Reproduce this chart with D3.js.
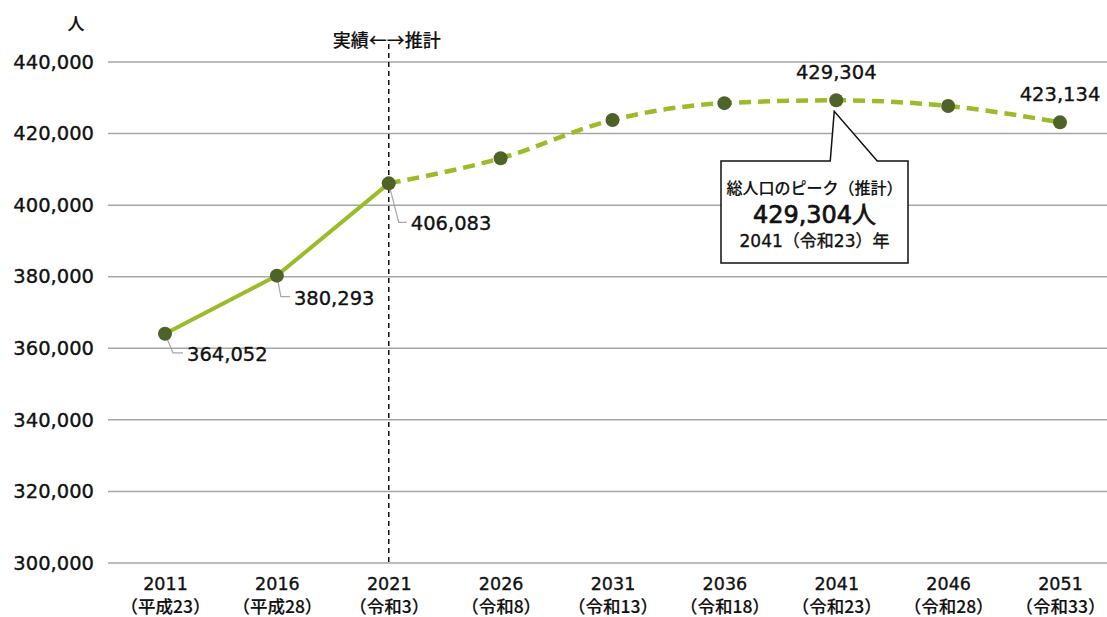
<!DOCTYPE html>
<html><head><meta charset="utf-8">
<script src="https://cdn.jsdelivr.net/npm/d3@7"></script>
<style>
body{margin:0;background:#fff;}
text{font-family:"DejaVu Sans","Noto Sans CJK JP",sans-serif;fill:#111;stroke:#111;stroke-width:0.35px;}
.jp{font-family:"Noto Sans CJK JP","DejaVu Sans",sans-serif;font-weight:500;stroke-width:0.15px;}
</style></head>
<body>
<svg id="c" width="1107" height="617"></svg>
<script>
const years = ["2011","2016","2021","2026","2031","2036","2041","2046","2051"];
const eras = ["（平成23）","（平成28）","（令和3）","（令和8）","（令和13）","（令和18）","（令和23）","（令和28）","（令和33）"];
const population = [364052,380293,406083,413100,423800,428500,429304,427700,423134];
const yTicks = [300000,320000,340000,360000,380000,400000,420000,440000];
const labelled = {0:"364,052",1:"380,293",2:"406,083",6:"429,304",8:"423,134"};
const actualEndIndex = 2;

const svg = d3.select("#c");
const x = d3.scalePoint().domain(years).range([165,1060]);
const y = d3.scaleLinear().domain([300000,440000]).range([563,62]);
const fmt = d3.format(",");

// gridlines
svg.append("g").selectAll("line").data(yTicks).join("line")
  .attr("x1",108).attr("x2",1107)
  .attr("y1",d=>y(d)).attr("y2",d=>y(d))
  .attr("stroke","#a6a6a6").attr("stroke-width",1.5);

// y axis labels
const yAxis = d3.axisLeft(y).tickValues(yTicks).tickFormat(fmt).tickSize(0).tickPadding(0);
const gy = svg.append("g").attr("transform","translate(94,0)").call(yAxis);
gy.select(".domain").remove();
gy.selectAll("text").attr("font-size","19.5px").attr("fill","#111")
  .style("font-family","'DejaVu Sans','Noto Sans CJK JP',sans-serif");

svg.append("text").attr("class","jp").attr("x",76).attr("y",30).attr("text-anchor","middle")
  .attr("font-size","17px").text("人");

// x axis labels
const xAxis = d3.axisBottom(x).tickSize(0).tickPadding(0).tickFormat(()=>"");
const gx = svg.append("g").attr("transform","translate(0,563)").call(xAxis);
gx.select(".domain").remove();
gx.selectAll(".tick").each(function(d,i){
  const g = d3.select(this);
  g.append("text").attr("y",27).attr("text-anchor","middle").attr("font-size","17.5px")
    .style("font-family","'DejaVu Sans','Noto Sans CJK JP',sans-serif").attr("fill","#111").text(years[i]);
  g.append("text").attr("class","jp").attr("y",50).attr("text-anchor","middle").attr("font-size","17.5px")
    .style("font-family","'Noto Sans CJK JP',sans-serif").attr("fill","#111").text(eras[i]);
});

// divider
const xd = x(years[actualEndIndex]);
svg.append("line").attr("x1",xd).attr("x2",xd).attr("y1",44).attr("y2",563)
  .attr("stroke","#111").attr("stroke-width",1.5).attr("stroke-dasharray","5,4");
svg.append("text").attr("class","jp").attr("x",xd-2).attr("y",47).attr("text-anchor","middle")
  .attr("font-size","18px").text("実績←→推計");

// line
const pts = years.map((yr,i)=>({yr,v:population[i]}));
const lineSolid = d3.line().x(d=>x(d.yr)).y(d=>y(d.v)).curve(d3.curveLinear);
const lineDash = d3.line().x(d=>x(d.yr)).y(d=>y(d.v)).curve(d3.curveMonotoneX);
svg.append("path").datum(pts.slice(0,actualEndIndex+1)).attr("d",lineSolid).attr("fill","none").attr("stroke","#9bbb29")
  .attr("stroke-width",4);
svg.append("path").datum(pts.slice(actualEndIndex)).attr("d",lineDash).attr("fill","none").attr("stroke","#9bbb29")
  .attr("stroke-width",4.5).attr("stroke-dasharray","12,7");

// leader lines for lower labels
const leaders = [[0,8,19,18],[1,4,21,13],[2,10,39,18]];
leaders.forEach(([i,dx,dy,hx])=>{
  const px=x(years[i]), py=y(population[i]);
  svg.append("polyline").attr("points",`${px},${py} ${px+dx},${py+dy} ${px+hx},${py+dy}`)
    .attr("fill","none").attr("stroke","#a6a6a6").attr("stroke-width",1.2);
  svg.append("text").attr("x",px+hx+4).attr("y",py+dy+8).attr("font-size","19.5px").text(labelled[i]);
});

// markers
svg.append("g").selectAll("circle").data(pts).join("circle")
  .attr("cx",d=>x(d.yr)).attr("cy",d=>y(d.v)).attr("r",7).attr("fill","#4f6228");

// upper labels
[6,8].forEach(i=>{
  svg.append("text").attr("x",x(years[i])).attr("y",y(population[i])-21).attr("text-anchor","middle")
    .attr("font-size","19.5px").text(labelled[i]);
});

// callout
const pk = 6, cx0 = x(years[pk]), cy0 = y(population[pk]);
const bx=721, by=161, bw=187, bh=102;
svg.append("path")
  .attr("d",`M${bx},${by} L${cx0-6},${by} L${cx0-2},${cy0+11} L${cx0+41},${by} L${bx+bw},${by} L${bx+bw},${by+bh} L${bx},${by+bh} Z`)
  .attr("fill","#fff").attr("stroke","#111").attr("stroke-width",1.5);
const tcx = bx+bw/2;
svg.append("text").attr("class","jp").attr("x",tcx).attr("y",194).attr("text-anchor","middle")
  .attr("font-size","16px").text("総人口のピーク（推計）");
svg.append("text").attr("x",tcx).attr("y",223).attr("text-anchor","middle")
  .attr("font-size","24px").style("stroke-width","0.7px").text(fmt(population[pk])+"人");
svg.append("text").attr("x",tcx).attr("y",247).attr("text-anchor","middle")
  .attr("font-size","17px").text("2041（令和23）年");
</script>
</body></html>
